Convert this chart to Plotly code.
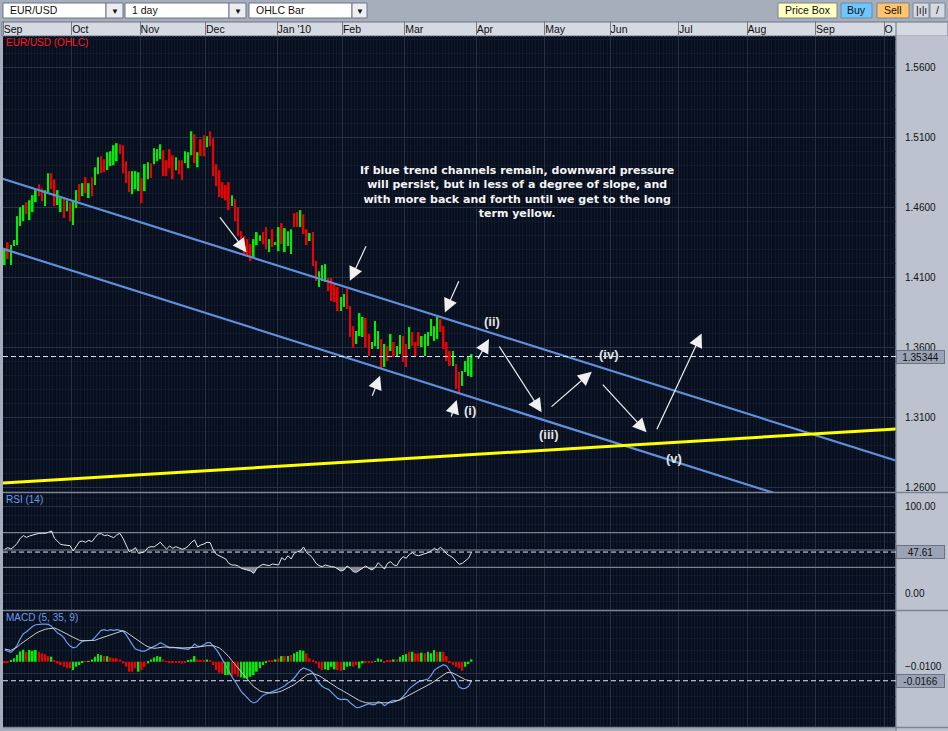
import numpy as np
import plotly.graph_objects as go

# ---- EUR/USD daily bars, Sep 2009 - Mar 2010 (one value per trading day) ----
highs = [
    1.4302, 1.4352, 1.4331, 1.4367, 1.4538, 1.4602, 1.4617, 1.4638, 1.4652, 1.4688,
    1.4724, 1.4767, 1.4738, 1.4724, 1.4845, 1.4845, 1.4802, 1.4724, 1.4667, 1.4660,
    1.4652, 1.4638, 1.4652, 1.4724, 1.4767, 1.4774, 1.4817, 1.4774, 1.4817, 1.4888,
    1.4959, 1.4967, 1.4945, 1.4995, 1.5002, 1.5045, 1.5060, 1.5052, 1.5045, 1.4931,
    1.4860, 1.4860, 1.4860, 1.4852, 1.4810, 1.4910, 1.4924, 1.4917, 1.5024, 1.5017,
    1.5052, 1.5010, 1.4938, 1.5017, 1.4974, 1.4960, 1.4938, 1.4938, 1.5002, 1.4995,
    1.5145, 1.5124, 1.4995, 1.5088, 1.5117, 1.5110, 1.5145, 1.5095, 1.4910, 1.4867,
    1.4781, 1.4760, 1.4781, 1.4688, 1.4660, 1.4602, 1.4431, 1.4395, 1.4374, 1.4338,
    1.4374, 1.4424, 1.4402, 1.4424, 1.4460, 1.4374, 1.4445, 1.4352, 1.4460, 1.4488,
    1.4452, 1.4431, 1.4445, 1.4560, 1.4567, 1.4581, 1.4552, 1.4445, 1.4417, 1.4424,
    1.4217, 1.4145, 1.4188, 1.4195, 1.4095, 1.4095, 1.4052, 1.4031, 1.3960, 1.3981,
    1.4017, 1.3895, 1.3752, 1.3717, 1.3845, 1.3817, 1.3810, 1.3695, 1.3638, 1.3788,
    1.3717, 1.3660, 1.3624, 1.3610, 1.3695, 1.3638, 1.3610, 1.3688, 1.3681, 1.3624,
    1.3745, 1.3710, 1.3638, 1.3710, 1.3681, 1.3695, 1.3710, 1.3802, 1.3752, 1.3817,
    1.3802, 1.3752, 1.3638, 1.3574, 1.3574, 1.3481, 1.3424, 1.3431, 1.3502, 1.3538,
    1.3552,
]
lows = [
    1.4188, 1.4231, 1.4188, 1.4324, 1.4331, 1.4467, 1.4502, 1.4552, 1.4510, 1.4567,
    1.4638, 1.4681, 1.4645, 1.4610, 1.4710, 1.4731, 1.4610, 1.4617, 1.4567, 1.4524,
    1.4574, 1.4502, 1.4474, 1.4595, 1.4645, 1.4681, 1.4702, 1.4667, 1.4681, 1.4760,
    1.4838, 1.4845, 1.4852, 1.4867, 1.4895, 1.4902, 1.4931, 1.4981, 1.4845, 1.4774,
    1.4710, 1.4695, 1.4731, 1.4717, 1.4631, 1.4717, 1.4802, 1.4810, 1.4910, 1.4931,
    1.4945, 1.4824, 1.4824, 1.4881, 1.4802, 1.4867, 1.4838, 1.4795, 1.4917, 1.4881,
    1.4974, 1.4917, 1.4888, 1.4967, 1.4967, 1.5031, 1.5038, 1.4824, 1.4752, 1.4674,
    1.4667, 1.4652, 1.4581, 1.4610, 1.4502, 1.4395, 1.4324, 1.4267, 1.4252, 1.4217,
    1.4245, 1.4331, 1.4360, 1.4338, 1.4302, 1.4281, 1.4317, 1.4338, 1.4288, 1.4338,
    1.4281, 1.4324, 1.4267, 1.4460, 1.4460, 1.4460, 1.4410, 1.4331, 1.4360, 1.4181,
    1.4074, 1.4031, 1.4074, 1.4067, 1.4002, 1.3931, 1.3924, 1.3860, 1.3860, 1.3888,
    1.3874, 1.3674, 1.3595, 1.3624, 1.3681, 1.3674, 1.3602, 1.3538, 1.3588, 1.3610,
    1.3588, 1.3452, 1.3460, 1.3502, 1.3574, 1.3531, 1.3531, 1.3552, 1.3495, 1.3460,
    1.3588, 1.3610, 1.3538, 1.3610, 1.3602, 1.3538, 1.3610, 1.3681, 1.3645, 1.3660,
    1.3710, 1.3588, 1.3502, 1.3467, 1.3467, 1.3302, 1.3267, 1.3324, 1.3424, 1.3395,
    1.3388,
]
# G = closed up, R = closed down
bar_dir = list(
    "GRGGGGGRGG" "GRRGGRRGGR" "GRGGRGRGRG" "GRRGGGGRRR" "RGGGRGGRGG"
    "GRRRRGRRGG" "GRGRRGRRRR" "RRRGRRRRRR" "GGGRRGRGGR" "GGGRRGRRGR"
    "RGGGRRRRGG" "RRRGGGRRGG" "GRGRGRGGRR" "GRRRGGGGGG" "RRRRGRRGGG"
    "G"
)

# ---- RSI (14) ----
rsi = [
    50.8, 52.7, 51.1, 53.8, 57.7, 63.5, 66.6, 64.6, 66.2, 67.3,
    68.9, 69.3, 69.3, 69.3, 70.4, 72.0, 63.5, 59.6, 56.5, 55.8,
    55.8, 55.0, 48.8, 53.5, 59.6, 60.4, 58.9, 61.2, 59.6, 64.2,
    68.5, 68.9, 66.6, 67.3, 66.2, 64.2, 67.3, 69.3, 63.5, 55.0,
    48.0, 50.0, 52.7, 46.1, 46.9, 48.0, 52.7, 53.8, 53.5, 56.5,
    58.9, 54.6, 51.1, 54.6, 51.9, 53.8, 52.3, 50.8, 51.9, 54.6,
    58.9, 61.6, 53.5, 55.8, 56.9, 58.9, 58.5, 50.0, 45.0, 43.1,
    41.1, 39.6, 34.6, 32.6, 32.6, 31.5, 28.8, 27.6, 26.5, 25.7,
    23.0, 28.8, 31.5, 33.4, 32.6, 31.9, 33.8, 33.4, 32.6, 41.1,
    38.4, 43.4, 39.6, 46.1, 48.0, 48.8, 53.5, 46.9, 44.2, 40.4,
    34.6, 31.9, 30.7, 32.6, 31.5, 30.7, 30.3, 28.0, 25.7, 26.9,
    31.5, 28.8, 24.9, 24.2, 26.9, 28.8, 31.5, 28.8, 26.9, 29.6,
    35.3, 31.5, 28.0, 34.6, 36.5, 32.6, 31.9, 38.4, 42.3, 40.4,
    45.0, 46.9, 44.2, 43.4, 44.2, 45.8, 46.9, 48.8, 51.9, 50.0,
    53.1, 50.0, 45.4, 43.1, 41.1, 37.3, 33.4, 34.6, 37.3, 40.4,
    47.6,
]
rsi_levels = [30, 50, 70]

# ---- MACD (5, 35, 9) ----
macd = [
    0.0102, 0.0090, 0.0082, 0.0105, 0.0146, 0.0201, 0.0245, 0.0262, 0.0286, 0.0309,
    0.0323, 0.0329, 0.0329, 0.0329, 0.0326, 0.0309, 0.0277, 0.0250, 0.0236, 0.0210,
    0.0166, 0.0137, 0.0122, 0.0128, 0.0157, 0.0178, 0.0184, 0.0184, 0.0187, 0.0213,
    0.0248, 0.0274, 0.0280, 0.0271, 0.0280, 0.0274, 0.0280, 0.0274, 0.0268, 0.0236,
    0.0187, 0.0149, 0.0111, 0.0099, 0.0093, 0.0093, 0.0105, 0.0120, 0.0134, 0.0149,
    0.0166, 0.0152, 0.0134, 0.0122, 0.0125, 0.0122, 0.0120, 0.0117, 0.0108, 0.0108,
    0.0125, 0.0155, 0.0134, 0.0134, 0.0149, 0.0166, 0.0166, 0.0140, 0.0105, 0.0064,
    0.0012, -0.0040, -0.0087, -0.0131, -0.0171, -0.0221, -0.0261, -0.0288, -0.0317, -0.0346,
    -0.0360, -0.0349, -0.0320, -0.0294, -0.0282, -0.0273, -0.0261, -0.0250, -0.0238, -0.0224,
    -0.0209, -0.0186, -0.0168, -0.0142, -0.0104, -0.0072, -0.0055, -0.0064, -0.0075, -0.0096,
    -0.0145, -0.0186, -0.0215, -0.0232, -0.0241, -0.0264, -0.0294, -0.0320, -0.0331, -0.0326,
    -0.0331, -0.0358, -0.0384, -0.0401, -0.0398, -0.0387, -0.0375, -0.0366, -0.0375, -0.0375,
    -0.0349, -0.0358, -0.0384, -0.0366, -0.0346, -0.0337, -0.0340, -0.0334, -0.0308, -0.0273,
    -0.0235, -0.0209, -0.0192, -0.0174, -0.0166, -0.0157, -0.0151, -0.0119, -0.0075, -0.0055,
    -0.0037, -0.0026, -0.0037, -0.0075, -0.0122, -0.0171, -0.0221, -0.0235, -0.0232, -0.0215,
    -0.0166,
]
signal = [
    0.0111, 0.0105, 0.0099, 0.0114, 0.0128, 0.0152, 0.0172, 0.0192, 0.0216, 0.0233,
    0.0248, 0.0262, 0.0274, 0.0283, 0.0288, 0.0294, 0.0294, 0.0283, 0.0271, 0.0256,
    0.0242, 0.0227, 0.0213, 0.0198, 0.0187, 0.0184, 0.0184, 0.0184, 0.0184, 0.0187,
    0.0198, 0.0207, 0.0218, 0.0227, 0.0239, 0.0250, 0.0256, 0.0265, 0.0271, 0.0259,
    0.0239, 0.0218, 0.0201, 0.0181, 0.0163, 0.0146, 0.0131, 0.0122, 0.0117, 0.0120,
    0.0125, 0.0128, 0.0128, 0.0128, 0.0128, 0.0125, 0.0122, 0.0120, 0.0120, 0.0120,
    0.0122, 0.0125, 0.0128, 0.0134, 0.0137, 0.0140, 0.0140, 0.0140, 0.0131, 0.0120,
    0.0099, 0.0073, 0.0044, 0.0009, -0.0023, -0.0055, -0.0084, -0.0116, -0.0157, -0.0189,
    -0.0218, -0.0235, -0.0256, -0.0264, -0.0270, -0.0273, -0.0273, -0.0270, -0.0264, -0.0256,
    -0.0244, -0.0230, -0.0215, -0.0200, -0.0180, -0.0157, -0.0137, -0.0116, -0.0107, -0.0104,
    -0.0113, -0.0122, -0.0139, -0.0157, -0.0180, -0.0197, -0.0212, -0.0230, -0.0244, -0.0261,
    -0.0279, -0.0294, -0.0311, -0.0326, -0.0340, -0.0349, -0.0358, -0.0360, -0.0360, -0.0360,
    -0.0360, -0.0360, -0.0360, -0.0360, -0.0358, -0.0352, -0.0343, -0.0334, -0.0320, -0.0305,
    -0.0291, -0.0276, -0.0261, -0.0247, -0.0232, -0.0221, -0.0209, -0.0189, -0.0171, -0.0151,
    -0.0131, -0.0113, -0.0096, -0.0093, -0.0099, -0.0113, -0.0128, -0.0142, -0.0157, -0.0163,
    -0.0171,
]
hist = [
    -0.0012, -0.0012, 0.0009, 0.0030, 0.0060, 0.0090, 0.0105, 0.0087, 0.0102, 0.0096,
    0.0102, 0.0087, 0.0073, 0.0067, 0.0049, 0.0044, 0.0015, -0.0015, -0.0029, -0.0044,
    -0.0058, -0.0058, -0.0073, -0.0044, -0.0029, -0.0006, 0.0003, 0.0006, 0.0020, 0.0044,
    0.0067, 0.0058, 0.0049, 0.0049, 0.0038, 0.0029, 0.0029, 0.0020, -0.0015, -0.0044,
    -0.0087, -0.0087, -0.0058, -0.0087, -0.0073, -0.0044, -0.0015, 0.0020, 0.0038, 0.0049,
    0.0044, 0.0020, 0.0006, -0.0003, -0.0009, -0.0009, -0.0012, -0.0015, -0.0009, 0.0015,
    0.0020, 0.0049, 0.0020, 0.0015, 0.0015, 0.0020, 0.0015, -0.0029, -0.0073, -0.0096,
    -0.0102, -0.0116, -0.0116, -0.0131, -0.0108, -0.0131, -0.0137, -0.0146, -0.0146, -0.0131,
    -0.0116, -0.0087, -0.0058, -0.0029, -0.0009, 0.0009, 0.0015, 0.0020, 0.0029, 0.0049,
    0.0049, 0.0049, 0.0058, 0.0073, 0.0087, 0.0102, 0.0096, 0.0073, 0.0029, 0.0015,
    -0.0015, -0.0058, -0.0073, -0.0067, -0.0073, -0.0044, -0.0067, -0.0073, -0.0079, -0.0073,
    -0.0044, -0.0038, -0.0044, -0.0029, -0.0058, -0.0015, -0.0006, -0.0006, -0.0006, 0.0006,
    0.0029, 0.0020, -0.0006, 0.0015, 0.0015, 0.0020, 0.0020, 0.0044, 0.0058, 0.0067,
    0.0087, 0.0087, 0.0073, 0.0073, 0.0079, 0.0073, 0.0087, 0.0073, 0.0102, 0.0087,
    0.0087, 0.0087, 0.0049, -0.0010, -0.0029, -0.0044, -0.0058, -0.0079, -0.0044, -0.0020,
    0.0020,
]
hist_dir = list(
    "RRGGGGGRGG" "GRRRRGRRRR" "RRGGGGRGGG" "GGRGRRRRRR" "RRRGRRGGGG"
    "GRRRRRRRRG" "GGRRRGRRRR" "RGGRRRGGGG" "GGGGGRRGRG" "RGRGGGGRRR"
    "RRRGGGGRRG" "GGRRGGRRRG" "GGRRRGRGGG" "RGRRGRGGGR" "GRRRRRRRGG"
    "G"
)

last_price = 1.35344
last_rsi = 47.61
last_macd = -0.0166

months = ["Sep", "Oct", "Nov", "Dec", "Jan '10", "Feb", "Mar", "Apr",
          "May", "Jun", "Jul", "Aug", "Sep", "O"]
month_starts = ["2009-09-01", "2009-10-01", "2009-11-01", "2009-12-01",
                "2010-01-01", "2010-02-01", "2010-03-01", "2010-04-01",
                "2010-05-01", "2010-06-01", "2010-07-01", "2010-08-01",
                "2010-09-01", "2010-10-01"]
price_ticks = [1.26, 1.31, 1.36, 1.41, 1.46, 1.51, 1.56]

# hand drawn trend lines: (trading day, price) at both ends
upper_channel = ([-1, 287], [1.4808, 1.2786])
lower_channel = ([-1, 287], [1.4308, 1.2278])
long_term_yellow = ([-1, 287], [1.2630, 1.3018])

# hand drawn wave arrows: tail day, tail price, head day, head price
wave_arrows = [
    (68.8, 1.4540, 77.7, 1.4279),
    (116.3, 1.4333, 110.9, 1.4076),
    (146.1, 1.4083, 141.4, 1.3850),
    (117.9, 1.3243, 120.6, 1.3397),
    (143.3, 1.3095, 145.2, 1.3224),
    (151.8, 1.3509, 155.6, 1.3659),
    (158.6, 1.3617, 172.5, 1.3136),
    (175.2, 1.3167, 188.6, 1.3426),
    (191.7, 1.3345, 206.2, 1.2993),
    (209.3, 1.3004, 223.9, 1.3700),
]
wave_labels = [("(i)", 149.4, 1.3152), ("(ii)", 156.7, 1.3783),
               ("(iii)", 174.8, 1.2976), ("(iv)", 194.1, 1.3552),
               ("(v)", 215.0, 1.2807)]
note = ("If blue trend channels remain, downward pressure<br>"
        "will persist, but in less of a degree of slope, and<br>"
        "with more back and forth until we get to the long<br>"
        "term yellow.")
note_pos = (164.7, 1.4714)

# ---------------------------------------------------------------------------
days = np.arange(len(highs))
highs = np.array(highs)
lows = np.array(lows)
rsi = np.array(rsi)
UP, DOWN = "#00ee00", "#ee0000"
bar_colors = [UP if d == "G" else DOWN for d in bar_dir]
hist_colors = [UP if d == "G" else DOWN for d in hist_dir]
month_pos = np.busday_count(np.datetime64("2009-09-01"),
                            np.array(month_starts, dtype="datetime64[D]")) - 0.5

W, H = 948, 731
ML, MR, MT, MB = 3, 52, 36, 4


def px(x):
    return (x - ML) / (W - ML - MR)


def py(y):
    return (H - MB - y) / (H - MT - MB)


FONT = "Liberation Sans"
GRID = "#283246"
MINOR = "#101a2b"
BLUE = "#5f90dc"

fig = go.Figure()

# price panel
fig.add_trace(go.Bar(x=days, y=highs - lows, base=lows, width=0.55,
                     marker=dict(color=bar_colors, line=dict(width=0)),
                     xaxis="x", yaxis="y", hoverinfo="skip"))
for (lx, ly), col, w in [(upper_channel, BLUE, 2.2), (lower_channel, BLUE, 2.2),
                         (long_term_yellow, "#ffff00", 3)]:
    fig.add_trace(go.Scatter(x=lx, y=ly, mode="lines", line=dict(color=col, width=w),
                             xaxis="x", yaxis="y", hoverinfo="skip"))

# RSI panel
for lvl in rsi_levels:
    fig.add_trace(go.Scatter(x=[-1, 287], y=[lvl, lvl], mode="lines",
                             line=dict(color="#7b818c", width=1.2),
                             xaxis="x2", yaxis="y2", hoverinfo="skip"))
for lvl, band in [(30, np.minimum(rsi, 30)), (70, np.maximum(rsi, 70))]:
    fig.add_trace(go.Scatter(x=days, y=[lvl] * len(days), mode="lines",
                             line=dict(width=0), xaxis="x2", yaxis="y2",
                             hoverinfo="skip"))
    fig.add_trace(go.Scatter(x=days, y=band, mode="lines", line=dict(width=0),
                             fill="tonexty", fillcolor="#858a94",
                             xaxis="x2", yaxis="y2", hoverinfo="skip"))
fig.add_trace(go.Scatter(x=days, y=rsi, mode="lines",
                         line=dict(color="#e4e6ea", width=1),
                         xaxis="x2", yaxis="y2", hoverinfo="skip"))

# MACD panel
fig.add_trace(go.Bar(x=days, y=hist, width=0.55,
                     marker=dict(color=hist_colors, line=dict(width=0)),
                     xaxis="x3", yaxis="y3", hoverinfo="skip"))
fig.add_trace(go.Scatter(x=days, y=macd, mode="lines",
                         line=dict(color="#6d9de8", width=1.2),
                         xaxis="x3", yaxis="y3", hoverinfo="skip"))
fig.add_trace(go.Scatter(x=days, y=signal, mode="lines",
                         line=dict(color="#c9ccd2", width=1),
                         xaxis="x3", yaxis="y3", hoverinfo="skip"))


def x_axis(**kw):
    ax = dict(range=[-0.55, 286.35], tickmode="array", tickvals=month_pos,
              showgrid=True, gridcolor=GRID, gridwidth=1, zeroline=False,
              showline=False, fixedrange=True,
              minor=dict(tickmode="linear", tick0=-0.5, dtick=1, showgrid=True,
                         gridcolor=MINOR, gridwidth=1))
    ax.update(kw)
    return ax


def y_axis(**kw):
    ax = dict(side="right", tickmode="array", ticks="", showgrid=True,
              gridcolor=GRID, gridwidth=1, zeroline=False, showline=False,
              fixedrange=True, ticklabelstandoff=8,
              tickfont=dict(family=FONT, size=10, color="#111111"))
    ax.update(kw)
    return ax


d_main = [py(492), 1]
d_rsi = [py(610), py(493)]
d_macd = [0, py(611)]

shapes = []
annotations = []


def rect(x0, y0, x1, y1, fill, line="#6d7585", layer="below"):
    shapes.append(dict(type="rect", xref="paper", yref="paper", x0=px(x0), x1=px(x1),
                       y0=py(y1), y1=py(y0), fillcolor=fill,
                       line=dict(color=line, width=1), layer=layer))


def label(x, y, text, size=10, color="#111111", anchor="left"):
    annotations.append(dict(xref="paper", yref="paper", x=px(x), y=py(y), text=text,
                            showarrow=False, xanchor=anchor, yanchor="middle",
                            font=dict(family=FONT, size=size, color=color)))


# header row and right axis strip
rect(2, 22, 948, 36, "#d5d9e1")
rect(896, 36, 948, 731, "#bcc3cf", line="#bcc3cf")
for yy in [492.5, 610.5, 727.5]:
    shapes.append(dict(type="line", xref="paper", yref="paper", x0=px(3), x1=px(948),
                       y0=py(yy), y1=py(yy), line=dict(color="#7d8595", width=1.5),
                       layer="above"))
shapes.append(dict(type="line", xref="paper", yref="paper", x0=px(896), x1=px(896),
                   y0=py(22), y1=py(731), line=dict(color="#6d7585", width=1),
                   layer="above"))

# toolbar
for x0, x1, b1, text in [(3, 106, 123, "EUR/USD"), (125, 229, 246, "1 day"),
                         (249, 352, 367, "OHLC Bar")]:
    rect(x0, 3, x1, 18, "#ffffff")
    rect(x1, 3, b1, 18, "#eceef2")
    label(x0 + 4.5, 10.5, text, size=10.5)
    label((x1 + b1) / 2, 11, "▼", size=8, anchor="center")
for x0, x1, fill, text in [(778, 837, "#ffffc2", "Price Box"), (841, 872, "#6cc6ff", "Buy"),
                           (877, 909, "#ffc46c", "Sell"), (913, 929, "#d5d9e1", "|ı|ı"),
                           (930, 945, "#d5d9e1", "/")]:
    rect(x0, 3, x1, 18, fill, line="#7d8595")
    label((x0 + x1) / 2, 10.5, text, size=10.5, anchor="center")

# panel captions
label(4, 42.5, "EUR/USD (OHLC)", size=10, color="#ff1a1a")
label(4, 499.7, "RSI (14)", size=10, color="#6d9ce8")
label(4, 617, "MACD (5, 35, 9)", size=10, color="#6d9ce8")

# last value lines and boxes
for val, ax, txt in [(last_price, "", f"{last_price:.5f}"),
                     (last_rsi, "2", f"{last_rsi:.2f}"),
                     (last_macd, "3", f"{last_macd:.4f}")]:
    shapes.append(dict(type="line", xref=f"x{ax} domain", yref=f"y{ax}", x0=0, x1=1,
                       y0=val, y1=val, line=dict(color="#dde6f8", width=1, dash="5px,3px"),
                       layer="above"))
    annotations.append(dict(xref="paper", yref=f"y{ax}", x=px(896), y=val,
                            xanchor="left", yanchor="middle", text=txt,
                            showarrow=False, bgcolor="#9aa3b5", bordercolor="#6a7384",
                            borderwidth=1, borderpad=1, width=45, height=10,
                            font=dict(family=FONT, size=10, color="#111111")))

# hand drawn arrows and labels
for tx, ty, hx, hy in wave_arrows:
    annotations.append(dict(x=hx, y=hy, ax=tx, ay=ty, xref="x", yref="y",
                            axref="x", ayref="y", text="", showarrow=True,
                            arrowhead=2, arrowsize=2.3, arrowwidth=1.2,
                            arrowcolor="#f0f0f0", standoff=0))
for txt, lx, ly in wave_labels:
    annotations.append(dict(x=lx, y=ly, xref="x", yref="y", text=f"<b>{txt}</b>",
                            showarrow=False,
                            font=dict(family=FONT, size=13, color="#e4e4e4")))
annotations.append(dict(x=note_pos[0], y=note_pos[1], xref="x", yref="y",
                        text=f"<b>{note}</b>", showarrow=False, align="center",
                        font=dict(family="DejaVu Sans", size=11, color="#f4f4f4")))

fig.update_layout(
    width=W, height=H, margin=dict(l=ML, r=MR, t=MT, b=MB),
    paper_bgcolor="#a6aebc", plot_bgcolor="#070e1d", showlegend=False,
    font=dict(family=FONT),
    xaxis=x_axis(anchor="y", side="top", ticktext=months, ticks="outside",
                 ticklen=14, tickcolor="#737b8b", tickwidth=1,
                 ticklabelposition="outside right", ticklabelstandoff=-2,
                 tickfont=dict(family=FONT, size=10.5, color="#111111")),
    xaxis2=x_axis(anchor="y2", matches="x", showticklabels=False, ticks=""),
    xaxis3=x_axis(anchor="y3", matches="x", showticklabels=False, ticks=""),
    yaxis=y_axis(domain=d_main, anchor="x", range=[1.2566, 1.5826],
                 tickvals=price_ticks, tickformat=".4f",
                 minor=dict(tickmode="linear", tick0=1.26, dtick=0.01,
                            showgrid=True, gridcolor=MINOR)),
    yaxis2=y_axis(domain=d_rsi, anchor="x2", range=[-19.4, 115.9],
                  tickvals=[0, 100], tickformat=".2f",
                  minor=dict(tickmode="linear", tick0=0, dtick=10,
                             showgrid=True, gridcolor=MINOR)),
    yaxis3=y_axis(domain=d_macd, anchor="x3", range=[-0.0570, 0.0443],
                  tickvals=[-0.01], tickformat=".4f", ticklabelshift=-7,
                  minor=dict(tickmode="linear", tick0=0, dtick=0.01,
                             showgrid=True, gridcolor=MINOR)),
    shapes=shapes, annotations=annotations,
)

fig.write_html("out.html", config={"displayModeBar": False},
               post_script="document.body.style.margin='0';"
                           "document.body.style.overflow='hidden';")
